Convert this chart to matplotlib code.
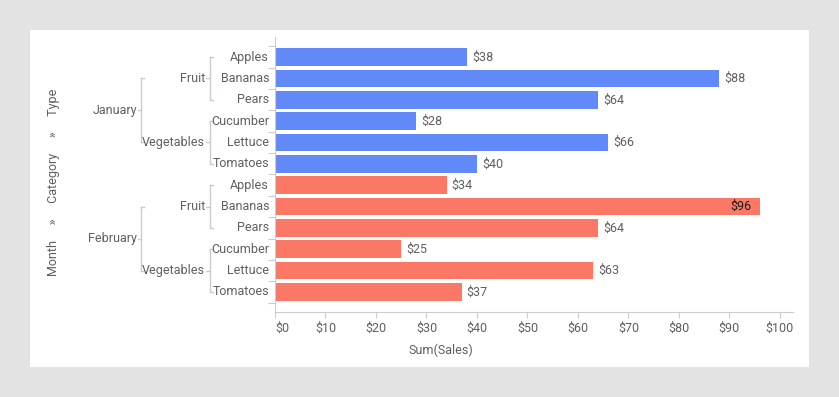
import numpy as np
import matplotlib.pyplot as plt
from matplotlib.patches import Rectangle
from matplotlib.transforms import blended_transform_factory

plt.rcParams['font.family'] = ['Roboto', 'DejaVu Sans']

# Dữ liệu
months = ["January", "February"]
categories = ["Fruit", "Vegetables"]
types = [["Apples", "Bananas", "Pears"], ["Cucumber", "Lettuce", "Tomatoes"]]
sales_jan = [38, 88, 64, 28, 66, 40]
sales_feb = [34, 96, 64, 25, 63, 37]
month_colors = ["#6189f8", "#fb7866"]
x_ticks = [0, 10, 20, 30, 40, 50, 60, 70, 80, 90, 100]

W, H = 839, 397
fig = plt.figure(figsize=(W / 100, H / 100), dpi=100)
fig.patch.set_facecolor("#e3e3e3")
fig.patches.append(Rectangle((30 / W, 1 - 367 / H), 779 / W, 337 / H,
                             transform=fig.transFigure, facecolor="white",
                             edgecolor="none", zorder=-10))

def px(x):
    return x / W

ax = fig.add_axes([px(275), 1 - 312 / H, px(518), 275 / H])
ax.set_facecolor("none")
ax.set_zorder(5)

line_col = "#cbcbd6"
text_col = "#5f5f5f"

values = sales_jan + sales_feb
n = len(values)
y = np.arange(n)
colors = [month_colors[0]] * len(sales_jan) + [month_colors[1]] * len(sales_feb)
bars = ax.barh(y, values, height=0.82, color=colors, zorder=2)

xmax = 102.6
for yi, v in zip(y, values):
    if v > 0.9 * xmax:
        ax.annotate(f"${v}", (v, yi), xytext=(-6, 0), textcoords="offset points",
                    ha="right", va="center", fontsize=9, color="#1a1a1a")
    else:
        ax.annotate(f"${v}", (v, yi), xytext=(3.6, 0), textcoords="offset points",
                    ha="left", va="center", fontsize=9, color=text_col)

ax.set_xlim(0, xmax)
ax.set_ylim(n - 0.5 + 0.445, -0.5 - 0.445)

for s in ["top", "right"]:
    ax.spines[s].set_visible(False)
for s in ["left", "bottom"]:
    ax.spines[s].set_color(line_col)

ax.set_xticks(x_ticks)
ax.set_xticklabels([f"${t}" for t in x_ticks])
ax.tick_params(axis="x", colors=line_col, labelcolor=text_col, labelsize=9,
               length=4, pad=3)
ax.get_xticklabels()[0].set_ha("left")

ax.set_yticks(np.arange(-0.5, n, 1.0))
ax.set_yticklabels([])
ax.tick_params(axis="y", colors=line_col, length=5)

# Nhãn phân cấp bên trái
tr = blended_transform_factory(fig.transFigure, ax.transData)
row = 0
for mi, month in enumerate(months):
    cat_centers = []
    for ci, cat in enumerate(categories):
        rows = []
        for t in types[ci]:
            ax.text(px(269), row, t, transform=tr, ha="right", va="center",
                    fontsize=9, color=text_col, clip_on=False)
            rows.append(row)
            row += 1
        top, bot, mid = rows[0], rows[-1], np.mean(rows)
        ax.text(px(205), mid, cat, transform=tr, ha="right", va="center",
                fontsize=9, color=text_col, clip_on=False)
        ax.plot([px(210), px(210)], [top, bot], transform=tr, color=line_col,
                lw=1, clip_on=False)
        ax.plot([px(210), px(213)], [top, top], transform=tr, color=line_col,
                lw=1, clip_on=False)
        ax.plot([px(210), px(213)], [bot, bot], transform=tr, color=line_col,
                lw=1, clip_on=False)
        ax.plot([px(206), px(210)], [mid, mid], transform=tr, color=line_col,
                lw=1, clip_on=False)
        cat_centers.append(mid)
    top, bot, mid = cat_centers[0], cat_centers[-1], np.mean(cat_centers)
    ax.text(px(137), mid, month, transform=tr, ha="right", va="center",
            fontsize=9, color=text_col, clip_on=False)
    ax.plot([px(141), px(141)], [top, bot], transform=tr, color=line_col,
            lw=1, clip_on=False)
    ax.plot([px(141), px(144)], [top, top], transform=tr, color=line_col,
            lw=1, clip_on=False)
    ax.plot([px(141), px(144)], [bot, bot], transform=tr, color=line_col,
            lw=1, clip_on=False)
    ax.plot([px(138), px(141)], [mid, mid], transform=tr, color=line_col,
            lw=1, clip_on=False)

fig.text(px(54), 1 - 182 / H, "Month     »     Category     »     Type",
         rotation=90, ha="center", va="center", fontsize=9, color=text_col)
fig.text(px(441), 1 - 350 / H, "Sum(Sales)", ha="center", va="center",
         fontsize=9, color=text_col)

fig.savefig("out.png", dpi=100, facecolor=fig.get_facecolor())
